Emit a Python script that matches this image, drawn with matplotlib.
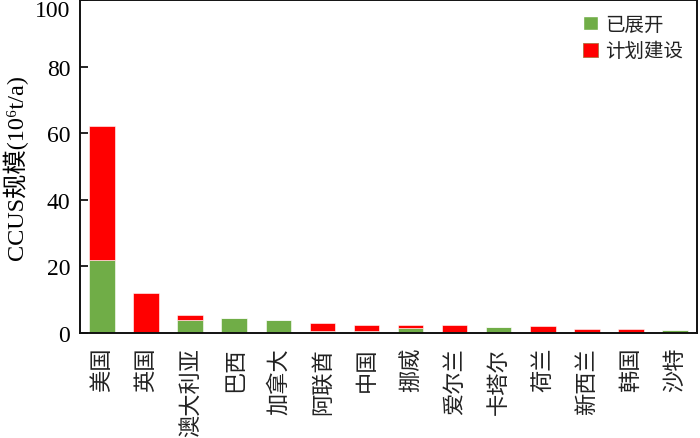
import matplotlib
matplotlib.use('Agg')
import matplotlib.pyplot as plt
import matplotlib.patches as patches
import numpy as np

plt.rcParams.update({
    'font.family': ['Liberation Serif', 'Noto Sans CJK SC'],
    'axes.linewidth': 1.4,
    'text.color': '#222222',
    'axes.edgecolor': '#111111',
})

# data (10^6 t/a)
countries = ['美国', '英国', '澳大利亚', '巴西', '加拿大', '阿联酋', '中国',
             '挪威', '爱尔兰', '卡塔尔', '荷兰', '新西兰', '韩国', '沙特']
deployed = [21.8, 0.0, 3.8, 4.6, 3.8, 0.6, 0.7, 1.5, 0.0, 1.9, 0.0, 0.0, 0.0, 0.8]
planned = [40.5, 12.0, 1.7, 0.0, 0.0, 2.3, 1.8, 0.9, 2.4, 0.0, 2.0, 1.1, 1.1, 0.0]
yticks = [0, 20, 40, 60, 80, 100]

GREEN = '#70AD47'
RED = '#FF0000'

fig = plt.figure(figsize=(7.0, 4.39), dpi=100)
ax = fig.add_axes([0.1143, 0.2392, 0.8814, 0.7585])

x = np.arange(len(countries))
ax.bar(x, deployed, width=0.58, color=GREEN, edgecolor='white', linewidth=0.4)
ax.bar(x, planned, width=0.58, bottom=deployed, color=RED, edgecolor='white', linewidth=0.4)

ax.set_xlim(-0.5, len(countries) - 0.5)
ax.set_ylim(0, 100)
ax.set_yticks(yticks)
ax.tick_params(axis='y', direction='in', length=6, width=1.2, pad=7, labelsize=17)
ax.tick_params(axis='x', length=0, pad=10)
ax.set_xticks(x)
ax.set_xticklabels(countries, rotation=90, fontsize=16, family=['Noto Sans CJK SC'], color='#222222')
# keep the top label inside the figure
ax.get_yticklabels()[-1].set_va('top')

ax.set_ylabel('CCUS规模(10⁶t/a)', fontsize=17.5, labelpad=5,
              family=['Liberation Serif', 'Noto Sans CJK SC'])

handles = [patches.Patch(facecolor=GREEN, edgecolor='white'),
           patches.Patch(facecolor=RED, edgecolor='#b07040', linewidth=0.6)]
ax.legend(handles, ['已展开', '计划建设'], loc='upper right', frameon=False,
          prop={'family': 'Noto Sans CJK SC', 'size': 14},
          handlelength=0.75, handleheight=0.75, handletextpad=0.4,
          labelspacing=0.3, borderaxespad=0.3, bbox_to_anchor=(1.0, 1.0))

fig.savefig('out.png', dpi=100)
